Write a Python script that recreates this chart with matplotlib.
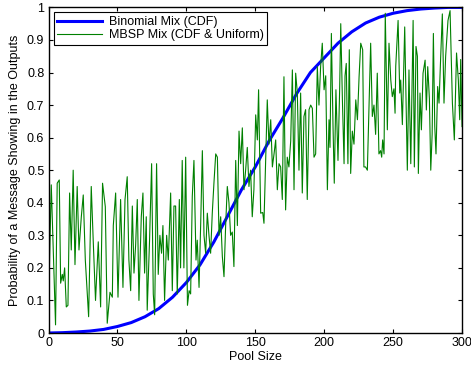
import matplotlib
matplotlib.use("Agg")
import matplotlib.pyplot as plt

plt.rcParams['font.family'] = ['Liberation Sans', 'DejaVu Sans']

# smooth curve (binomial mix CDF)
cdf_x = [0, 10, 20, 30, 40, 50, 60, 70, 80, 90, 100, 110, 120, 130, 140, 150,
         160, 170, 180, 190, 200, 210, 220, 230, 240, 250, 260, 270, 280, 290, 300]
cdf_y = [0.0, 0.001, 0.003, 0.006, 0.011, 0.02, 0.032, 0.05, 0.075, 0.11, 0.155,
         0.21, 0.28, 0.36, 0.44, 0.51, 0.59, 0.66, 0.735, 0.80, 0.845, 0.89,
         0.925, 0.952, 0.97, 0.982, 0.99, 0.995, 0.998, 1.0, 1.0]

# noisy curve (MBSP mix)
mbsp_x = [0, 2, 5.1, 6.3, 7.8, 8.8, 10, 10.7, 11.7, 12.9, 14.1, 15.3, 16.5, 17.9,
          19.2, 20.8, 22.1, 23.8, 25.2, 26.7, 29.1, 31, 32.5, 34.1, 36.1, 37.8,
          39.2, 41.2, 42.6, 44.6, 46.3, 47, 48.7, 50.4, 52.3, 54, 55.5, 57.1,
          58.3, 59.6, 60.8, 62, 63.2, 64.4, 65.6, 67.3, 68.5, 69.7, 70.9, 71.6,
          73.3, 74.8, 76, 77, 78.4, 79.6, 80.8, 82, 83, 84.2, 85.7, 86.9, 88.6,
          89.8, 91, 92.2, 93.4, 94.9, 95.8, 97, 98.2, 99.5, 100.8, 102, 103.1,
          104.3, 105.5, 107, 107.9, 109.2, 110.4, 111.6, 112.8, 114, 115.2,
          116.4, 117.6, 118.8, 120, 121.3, 122.5, 123.7, 124.9, 126.1, 127.3,
          128.5, 129.7, 130.9, 132.1, 133.3, 134.5, 135.8, 137, 138.2, 139.4,
          140.6, 141.8, 143, 144.2, 145.4, 146.6, 147.8, 149, 150.3, 151.5,
          152.4, 153.9, 155.4, 156.3, 158.7, 159.9, 161.2, 162.4, 163.6, 164.8,
          166, 167.2, 168.4, 169.6, 170.8, 172, 173.2, 174.4, 175.7, 176.9,
          178.1, 179.3, 180.5, 181.7, 182.9, 184.1, 185.3, 186.5, 187.7, 189,
          190.2, 191.4, 192.6, 193.8, 195, 196.2, 197.4, 198.6, 199.9, 201.1,
          202.3, 203.5, 204.2, 205.2, 206.4, 207.3, 208.5, 210, 211.2, 212,
          213.2, 214.4, 215.1, 216, 217.2, 218.2, 219.2, 220.4, 221.6, 222.9,
          224.1, 225.3, 226.5, 227.9, 228.8, 230, 231.3, 232.5, 233.7, 234.9,
          236.1, 237.3, 238.5, 239.7, 240.9, 241.7, 242.4, 243.4, 244.3, 245.8,
          247, 248.3, 249.4, 250.6, 251.4, 251.9, 253.6, 254.8, 255.5, 256.7,
          258.4, 260.3, 261.5, 262.8, 264.5, 265.4, 266.6, 267.6, 268.3, 269.5,
          270.5, 271.7, 273.2, 274.1, 275.1, 276.3, 277.3, 278.3, 279.2, 280.2,
          281.1, 282.3, 283.3, 284.5, 285.7, 286.9, 288.1, 289.8, 291.3, 293,
          294.4, 296, 297.3, 298.3, 299, 300]
mbsp_y = [0.08, 0.455, 0.025, 0.46, 0.47, 0.153, 0.18, 0.16, 0.2, 0.08, 0.085,
          0.43, 0.255, 0.5, 0.21, 0.45, 0.255, 0.357, 0.424, 0.224, 0.05, 0.45,
          0.276, 0.1, 0.28, 0.08, 0.46, 0.388, 0.03, 0.125, 0.11, 0.33, 0.43,
          0.11, 0.41, 0.14, 0.41, 0.48, 0.225, 0.13, 0.39, 0.184, 0.27, 0.41,
          0.10, 0.357, 0.43, 0.184, 0.357, 0.07, 0.285, 0.52, 0.12, 0.056, 0.52,
          0.18, 0.30, 0.245, 0.33, 0.10, 0.30, 0.224, 0.43, 0.13, 0.39, 0.39,
          0.12, 0.41, 0.20, 0.53, 0.20, 0.54, 0.085, 0.13, 0.12, 0.42, 0.53,
          0.224, 0.285, 0.14, 0.337, 0.56, 0.30, 0.245, 0.368, 0.30, 0.245,
          0.368, 0.46, 0.55, 0.54, 0.30, 0.357, 0.235, 0.173, 0.33, 0.45, 0.40,
          0.30, 0.31, 0.204, 0.53, 0.33, 0.62, 0.52, 0.63, 0.44, 0.50, 0.57,
          0.45, 0.50, 0.357, 0.44, 0.67, 0.593, 0.747, 0.368, 0.37, 0.337,
          0.716, 0.58, 0.655, 0.51, 0.55, 0.593, 0.44, 0.52, 0.51, 0.41, 0.787,
          0.378, 0.54, 0.51, 0.59, 0.808, 0.44, 0.798, 0.737, 0.50, 0.737, 0.43,
          0.665, 0.686, 0.41, 0.686, 0.70, 0.69, 0.54, 0.55, 0.818, 0.70, 0.818,
          0.89, 0.747, 0.79, 0.44, 0.655, 0.57, 0.92, 0.634, 0.46, 0.747, 0.53,
          0.747, 0.95, 0.716, 0.52, 0.79, 0.828, 0.52, 0.87, 0.49, 0.62, 0.58,
          0.716, 0.655, 0.787, 0.89, 0.87, 0.51, 0.51, 0.50, 0.70, 0.89, 0.665,
          0.70, 0.61, 0.798, 0.55, 0.56, 0.54, 0.593, 0.55, 0.982, 0.624, 0.89,
          0.777, 0.726, 0.75, 0.675, 0.82, 0.96, 0.737, 0.777, 0.64, 0.94, 0.50,
          0.808, 0.52, 0.96, 0.51, 0.88, 0.85, 0.49, 0.737, 0.624, 0.798, 0.838,
          0.685, 0.818, 0.72, 0.50, 0.61, 0.92, 0.634, 0.55, 0.757, 0.706, 0.848,
          0.98, 0.706, 0.85, 0.96, 0.99, 0.706, 0.593, 0.86, 0.777, 0.655, 0.84,
          0.634]

x_ticks = [0, 50, 100, 150, 200, 250, 300]
y_ticks = [0, 0.1, 0.2, 0.3, 0.4, 0.5, 0.6, 0.7, 0.8, 0.9, 1]
y_labels = ['0', '0.1', '0.2', '0.3', '0.4', '0.5', '0.6', '0.7', '0.8', '0.9', '1']

fig = plt.figure(figsize=(4.71, 3.70), dpi=100)
ax = fig.add_axes([0.103, 0.1, 0.878, 0.88])

ax.plot(cdf_x, cdf_y, color='#0000ff', lw=2.2, label='Binomial Mix (CDF)')
ax.plot(mbsp_x, mbsp_y, color='#008000', lw=0.8, label='MBSP Mix (CDF & Uniform)')

ax.set_xlim(0, 300)
ax.set_ylim(0, 1)
ax.set_xticks(x_ticks)
ax.set_yticks(y_ticks)
ax.set_yticklabels(y_labels)
ax.tick_params(direction='in', top=True, right=True, labelsize=9, length=3, pad=3)
for s in ax.spines.values():
    s.set_linewidth(1.0)

ax.set_xlabel('Pool Size', fontsize=9, labelpad=1)
ax.set_ylabel('Probability of a Message Showing in the Outputs', fontsize=9, labelpad=4)

leg = ax.legend(loc='upper left', fontsize=9, fancybox=False, framealpha=1,
                borderpad=0.3, labelspacing=0.1, handlelength=3.6,
                handletextpad=0.5, borderaxespad=0.4)
leg.get_frame().set_edgecolor('black')
leg.get_frame().set_linewidth(0.8)

fig.savefig('out.png', dpi=100)
